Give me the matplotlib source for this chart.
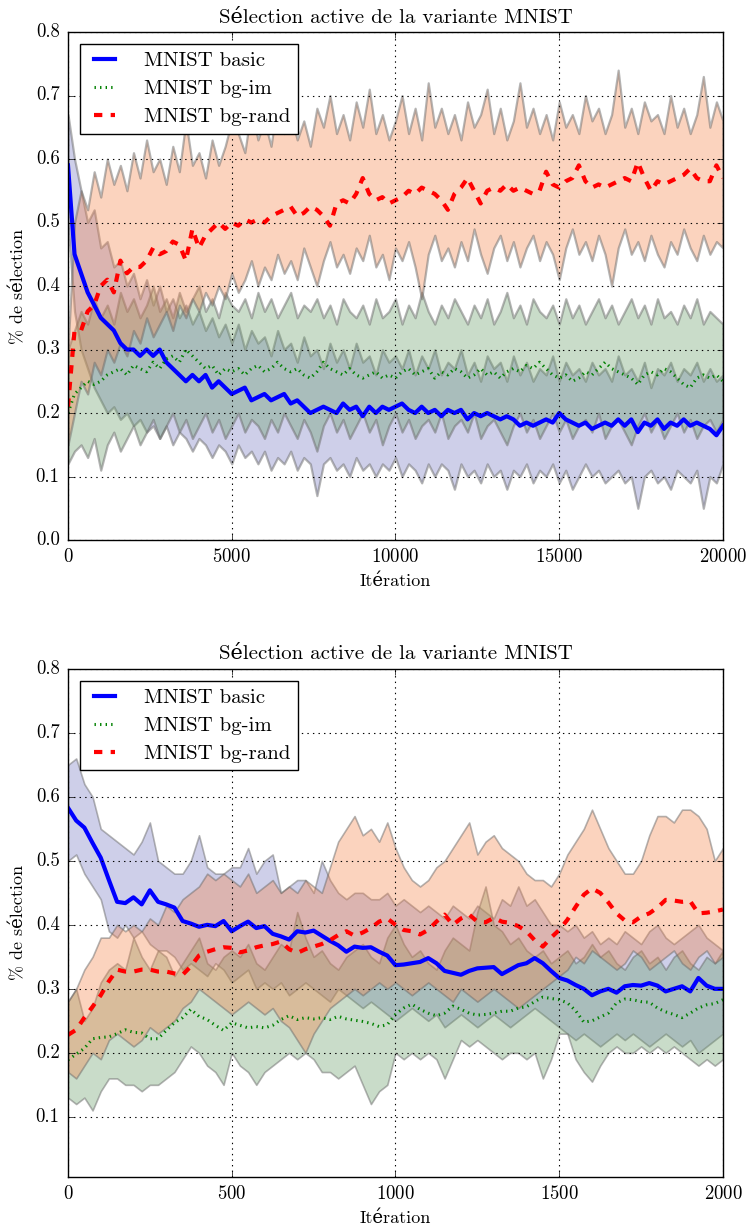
import numpy as np
import matplotlib
matplotlib.use("Agg")
import matplotlib.pyplot as plt

plt.style.use("classic")
plt.rcParams["font.family"] = ["cmr10", "DejaVu Serif"]
plt.rcParams["axes.formatter.use_mathtext"] = True
plt.rcParams["figure.facecolor"] = "white"
plt.rcParams["savefig.facecolor"] = "white"

TITLE = "Sélection active de la variante MNIST"
XLABEL = "Itération"
YLABEL = "% de sélection"
NAMES = ["MNIST basic", "MNIST bg-im", "MNIST bg-rand"]

# ---------------------------------------------------------------------------
# top panel : 0 .. 20000 iterations (one value every 200 iterations)
# ---------------------------------------------------------------------------
TOP_XMAX = 20000

top_basic = [
    0.59, 0.45, 0.42, 0.39, 0.37, 0.35, 0.34, 0.33, 0.31, 0.30,
    0.30, 0.29, 0.30, 0.29, 0.30, 0.28, 0.27, 0.26, 0.25, 0.26,
    0.25, 0.26, 0.24, 0.25, 0.24, 0.23, 0.235, 0.24, 0.22, 0.225,
    0.23, 0.22, 0.225, 0.23, 0.215, 0.22, 0.21, 0.20, 0.205, 0.21,
    0.205, 0.20, 0.215, 0.205, 0.21, 0.195, 0.21, 0.20, 0.21, 0.205,
    0.21, 0.215, 0.205, 0.20, 0.21, 0.20, 0.205, 0.195, 0.205, 0.20,
    0.205, 0.19, 0.20, 0.195, 0.20, 0.195, 0.19, 0.195, 0.19, 0.18,
    0.185, 0.18, 0.185, 0.19, 0.185, 0.20, 0.19, 0.185, 0.18, 0.185,
    0.175, 0.18, 0.185, 0.18, 0.19, 0.18, 0.19, 0.17, 0.185, 0.18,
    0.19, 0.175, 0.185, 0.18, 0.19, 0.18, 0.185, 0.18, 0.175, 0.165,
    0.18]
top_basic_hi = [
    0.67, 0.60, 0.55, 0.50, 0.52, 0.46, 0.47, 0.43, 0.44, 0.40,
    0.42, 0.38, 0.41, 0.37, 0.40, 0.36, 0.38, 0.35, 0.37, 0.34,
    0.36, 0.33, 0.35, 0.32, 0.34, 0.31, 0.34, 0.30, 0.33, 0.31,
    0.32, 0.29, 0.33, 0.30, 0.31, 0.28, 0.32, 0.29, 0.30, 0.27,
    0.31, 0.28, 0.30, 0.27, 0.31, 0.28, 0.29, 0.26, 0.30, 0.28,
    0.29, 0.27, 0.30, 0.26, 0.29, 0.27, 0.30, 0.26, 0.28, 0.27,
    0.30, 0.26, 0.28, 0.25, 0.29, 0.27, 0.28, 0.25, 0.29, 0.26,
    0.28, 0.25, 0.27, 0.26, 0.29, 0.25, 0.28, 0.26, 0.27, 0.25,
    0.28, 0.26, 0.27, 0.25, 0.29, 0.26, 0.27, 0.25, 0.28, 0.24,
    0.27, 0.26, 0.28, 0.25, 0.27, 0.26, 0.28, 0.25, 0.27, 0.25,
    0.26]
top_basic_lo = [
    0.50, 0.36, 0.30, 0.27, 0.24, 0.22, 0.20, 0.21, 0.19, 0.20,
    0.18, 0.19, 0.17, 0.18, 0.16, 0.18, 0.15, 0.17, 0.16, 0.14,
    0.16, 0.15, 0.13, 0.15, 0.14, 0.12, 0.15, 0.13, 0.14, 0.12,
    0.14, 0.11, 0.13, 0.12, 0.14, 0.11, 0.13, 0.12, 0.07, 0.12,
    0.13, 0.11, 0.12, 0.10, 0.13, 0.11, 0.12, 0.10, 0.12, 0.11,
    0.13, 0.10, 0.12, 0.11, 0.09, 0.12, 0.10, 0.12, 0.11, 0.08,
    0.12, 0.10, 0.11, 0.09, 0.12, 0.10, 0.11, 0.08, 0.11, 0.10,
    0.12, 0.09, 0.11, 0.10, 0.12, 0.09, 0.11, 0.08, 0.10, 0.12,
    0.10, 0.11, 0.09, 0.10, 0.11, 0.09, 0.10, 0.05, 0.10, 0.11,
    0.09, 0.10, 0.08, 0.11, 0.10, 0.09, 0.11, 0.05, 0.10, 0.09,
    0.12]

top_bgim = [
    0.20, 0.23, 0.24, 0.25, 0.245, 0.25, 0.26, 0.265, 0.27, 0.26,
    0.275, 0.27, 0.265, 0.28, 0.27, 0.285, 0.29, 0.28, 0.30, 0.29,
    0.28, 0.27, 0.275, 0.26, 0.27, 0.265, 0.27, 0.26, 0.27, 0.275,
    0.265, 0.27, 0.28, 0.27, 0.265, 0.27, 0.26, 0.255, 0.265, 0.28,
    0.27, 0.265, 0.26, 0.27, 0.26, 0.255, 0.26, 0.265, 0.255, 0.26,
    0.255, 0.265, 0.27, 0.26, 0.265, 0.27, 0.255, 0.265, 0.26, 0.27,
    0.265, 0.255, 0.26, 0.27, 0.26, 0.265, 0.255, 0.265, 0.27, 0.265,
    0.275, 0.27, 0.28, 0.27, 0.26, 0.255, 0.26, 0.25, 0.255, 0.265,
    0.26, 0.27, 0.28, 0.27, 0.265, 0.26, 0.255, 0.245, 0.26, 0.265,
    0.26, 0.27, 0.265, 0.255, 0.245, 0.24, 0.255, 0.26, 0.255, 0.26,
    0.25]
top_bgim_hi = [
    0.30, 0.33, 0.36, 0.34, 0.38, 0.35, 0.37, 0.34, 0.39, 0.36,
    0.38, 0.35, 0.37, 0.40, 0.36, 0.38, 0.35, 0.39, 0.36, 0.38,
    0.40, 0.36, 0.38, 0.35, 0.39, 0.37, 0.36, 0.38, 0.35, 0.39,
    0.36, 0.38, 0.35, 0.37, 0.39, 0.35, 0.37, 0.36, 0.38, 0.35,
    0.37, 0.34, 0.38, 0.36, 0.35, 0.37, 0.34, 0.38, 0.35, 0.36,
    0.38, 0.34, 0.37, 0.35, 0.39, 0.36, 0.34, 0.37, 0.35, 0.38,
    0.36, 0.34, 0.37, 0.35, 0.38, 0.34, 0.36, 0.39, 0.35, 0.37,
    0.34, 0.38, 0.36, 0.35, 0.37, 0.34, 0.38, 0.35, 0.37, 0.34,
    0.36, 0.38, 0.35, 0.37, 0.34, 0.36, 0.38, 0.35, 0.37, 0.34,
    0.38, 0.35, 0.36, 0.34, 0.37, 0.35, 0.38, 0.34, 0.36, 0.35,
    0.34]
top_bgim_lo = [
    0.12, 0.14, 0.15, 0.13, 0.16, 0.11, 0.15, 0.17, 0.14, 0.16,
    0.18, 0.15, 0.17, 0.19, 0.16, 0.18, 0.20, 0.17, 0.19, 0.16,
    0.18, 0.20, 0.17, 0.19, 0.16, 0.18, 0.20, 0.17, 0.19, 0.18,
    0.16, 0.19, 0.17, 0.20, 0.18, 0.16, 0.19, 0.17, 0.14, 0.18,
    0.20, 0.17, 0.19, 0.16, 0.18, 0.20, 0.17, 0.19, 0.15, 0.18,
    0.20, 0.17, 0.19, 0.16, 0.18, 0.19, 0.17, 0.20, 0.16, 0.18,
    0.19, 0.17, 0.20, 0.16, 0.18, 0.19, 0.17, 0.15, 0.18, 0.20,
    0.17, 0.19, 0.16, 0.18, 0.20, 0.17, 0.19, 0.16, 0.18, 0.19,
    0.17, 0.20, 0.16, 0.18, 0.19, 0.17, 0.15, 0.18, 0.20, 0.17,
    0.19, 0.16, 0.18, 0.20, 0.17, 0.19, 0.16, 0.18, 0.19, 0.17,
    0.19]

top_bgrand = [
    0.21, 0.33, 0.33, 0.36, 0.37, 0.40, 0.41, 0.39, 0.44, 0.42,
    0.43, 0.43, 0.44, 0.46, 0.45, 0.455, 0.47, 0.465, 0.44, 0.49,
    0.46, 0.48, 0.49, 0.50, 0.49, 0.50, 0.495, 0.505, 0.50, 0.505,
    0.50, 0.51, 0.515, 0.52, 0.525, 0.51, 0.515, 0.525, 0.52, 0.51,
    0.495, 0.53, 0.535, 0.53, 0.545, 0.57, 0.545, 0.535, 0.54, 0.53,
    0.535, 0.54, 0.55, 0.545, 0.555, 0.55, 0.545, 0.535, 0.52, 0.545,
    0.555, 0.57, 0.55, 0.53, 0.55, 0.555, 0.55, 0.56, 0.55, 0.555,
    0.55, 0.545, 0.55, 0.58, 0.56, 0.555, 0.565, 0.57, 0.59, 0.565,
    0.555, 0.56, 0.555, 0.56, 0.565, 0.57, 0.565, 0.595, 0.57, 0.55,
    0.565, 0.56, 0.565, 0.57, 0.575, 0.585, 0.57, 0.565, 0.565, 0.59,
    0.57]
top_bgrand_hi = [
    0.30, 0.50, 0.55, 0.52, 0.58, 0.54, 0.60, 0.56, 0.59, 0.55,
    0.61, 0.57, 0.63, 0.58, 0.60, 0.56, 0.62, 0.58, 0.66, 0.59,
    0.61, 0.57, 0.63, 0.59, 0.62, 0.66, 0.64, 0.61, 0.68, 0.63,
    0.66, 0.62, 0.69, 0.64, 0.67, 0.63, 0.66, 0.62, 0.68, 0.65,
    0.70, 0.64, 0.67, 0.63, 0.69, 0.65, 0.71, 0.64, 0.67, 0.63,
    0.66, 0.70, 0.64, 0.68, 0.63, 0.72, 0.65, 0.68, 0.64, 0.67,
    0.63, 0.69, 0.65, 0.67, 0.71, 0.64, 0.68, 0.63, 0.66, 0.72,
    0.65, 0.68, 0.64, 0.67, 0.63, 0.69, 0.65, 0.67, 0.64, 0.70,
    0.66, 0.68, 0.64, 0.67, 0.74, 0.65, 0.68, 0.64, 0.69, 0.66,
    0.67, 0.64, 0.70, 0.65, 0.68, 0.64, 0.67, 0.73, 0.65, 0.69,
    0.66]
top_bgrand_lo = [
    0.15, 0.20, 0.25, 0.23, 0.28, 0.26, 0.30, 0.28, 0.31, 0.29,
    0.33, 0.31, 0.35, 0.32, 0.34, 0.36, 0.33, 0.37, 0.35, 0.38,
    0.36, 0.39, 0.37, 0.40, 0.38, 0.42, 0.39, 0.41, 0.44, 0.40,
    0.43, 0.41, 0.45, 0.42, 0.44, 0.41, 0.46, 0.43, 0.40, 0.44,
    0.47, 0.43, 0.45, 0.42, 0.46, 0.44, 0.48, 0.43, 0.45, 0.41,
    0.46, 0.44, 0.47, 0.43, 0.38, 0.45, 0.48, 0.44, 0.46, 0.43,
    0.47, 0.44, 0.49, 0.45, 0.42, 0.46, 0.48, 0.44, 0.47, 0.43,
    0.46, 0.48, 0.44, 0.47, 0.45, 0.41, 0.46, 0.49, 0.45, 0.47,
    0.44, 0.48, 0.45, 0.40, 0.46, 0.49, 0.45, 0.47, 0.44, 0.48,
    0.45, 0.43, 0.47, 0.45, 0.49, 0.46, 0.44, 0.48, 0.45, 0.47,
    0.46]

# ---------------------------------------------------------------------------
# bottom panel : first 2000 iterations (one value every 25 iterations)
# ---------------------------------------------------------------------------
BOT_XMAX = 2000

bot_basic = [
    0.583, 0.563, 0.552, 0.528, 0.505, 0.470, 0.436, 0.434, 0.443, 0.432,
    0.454, 0.436, 0.432, 0.427, 0.406, 0.402, 0.397, 0.400, 0.398, 0.406,
    0.390, 0.398, 0.405, 0.395, 0.398, 0.386, 0.382, 0.377, 0.390, 0.388,
    0.391, 0.383, 0.375, 0.368, 0.358, 0.366, 0.364, 0.365, 0.358, 0.352,
    0.337, 0.338, 0.340, 0.342, 0.348, 0.340, 0.328, 0.325, 0.322, 0.328,
    0.332, 0.333, 0.334, 0.323, 0.330, 0.337, 0.340, 0.348, 0.340, 0.328,
    0.317, 0.313, 0.306, 0.300, 0.290, 0.296, 0.300, 0.294, 0.304, 0.306,
    0.305, 0.309, 0.305, 0.296, 0.300, 0.304, 0.296, 0.317, 0.305, 0.300,
    0.300]
bot_basic_hi = [
    0.65, 0.66, 0.62, 0.60, 0.55, 0.54, 0.53, 0.52, 0.51, 0.53,
    0.56, 0.50, 0.49, 0.48, 0.48, 0.50, 0.54, 0.49, 0.48, 0.48,
    0.49, 0.49, 0.52, 0.48, 0.50, 0.51, 0.45, 0.46, 0.47, 0.47,
    0.45, 0.50, 0.47, 0.45, 0.44, 0.45, 0.45, 0.44, 0.44, 0.45,
    0.43, 0.44, 0.43, 0.42, 0.43, 0.42, 0.41, 0.43, 0.42, 0.41,
    0.43, 0.42, 0.41, 0.44, 0.43, 0.46, 0.43, 0.44, 0.42, 0.40,
    0.40, 0.39, 0.40, 0.38, 0.39, 0.37, 0.38, 0.37, 0.39, 0.38,
    0.37, 0.39, 0.40, 0.38, 0.37, 0.38, 0.39, 0.40, 0.38, 0.37,
    0.36]
bot_basic_lo = [
    0.50, 0.51, 0.48, 0.46, 0.44, 0.39, 0.38, 0.40, 0.38, 0.39,
    0.37, 0.36, 0.36, 0.35, 0.33, 0.34, 0.33, 0.32, 0.34, 0.33,
    0.31, 0.32, 0.33, 0.30, 0.31, 0.30, 0.31, 0.29, 0.30, 0.31,
    0.30, 0.29, 0.28, 0.30, 0.29, 0.28, 0.27, 0.28, 0.27, 0.26,
    0.25, 0.26, 0.27, 0.26, 0.25, 0.26, 0.24, 0.25, 0.26, 0.25,
    0.24, 0.25, 0.26, 0.25, 0.24, 0.25, 0.26, 0.27, 0.26, 0.25,
    0.24, 0.23, 0.22, 0.23, 0.22, 0.21, 0.22, 0.23, 0.22, 0.23,
    0.22, 0.21, 0.22, 0.23, 0.22, 0.21, 0.22, 0.20, 0.21, 0.22,
    0.23]

bot_bgim = [
    0.189, 0.198, 0.207, 0.222, 0.224, 0.225, 0.230, 0.236, 0.232, 0.231,
    0.222, 0.222, 0.235, 0.247, 0.255, 0.268, 0.257, 0.252, 0.243, 0.235,
    0.247, 0.243, 0.239, 0.241, 0.239, 0.243, 0.252, 0.258, 0.252, 0.255,
    0.253, 0.255, 0.252, 0.257, 0.253, 0.251, 0.249, 0.246, 0.241, 0.244,
    0.260, 0.270, 0.276, 0.268, 0.262, 0.258, 0.262, 0.273, 0.268, 0.262,
    0.259, 0.260, 0.262, 0.265, 0.265, 0.270, 0.272, 0.280, 0.287, 0.285,
    0.283, 0.278, 0.266, 0.248, 0.250, 0.256, 0.262, 0.278, 0.284, 0.283,
    0.280, 0.279, 0.270, 0.264, 0.260, 0.255, 0.262, 0.270, 0.275, 0.277,
    0.283]
bot_bgim_hi = [
    0.28, 0.30, 0.25, 0.27, 0.31, 0.33, 0.34, 0.33, 0.38, 0.35,
    0.33, 0.36, 0.35, 0.32, 0.34, 0.36, 0.38, 0.34, 0.33, 0.35,
    0.36, 0.35, 0.37, 0.34, 0.33, 0.35, 0.37, 0.36, 0.42, 0.38,
    0.35, 0.36, 0.34, 0.33, 0.35, 0.36, 0.37, 0.35, 0.34, 0.38,
    0.40, 0.37, 0.35, 0.36, 0.34, 0.33, 0.36, 0.38, 0.37, 0.36,
    0.42, 0.46, 0.40, 0.39, 0.37, 0.38, 0.36, 0.35, 0.36, 0.34,
    0.35, 0.36, 0.34, 0.35, 0.37, 0.35, 0.36, 0.34, 0.33, 0.35,
    0.36, 0.34, 0.35, 0.33, 0.35, 0.36, 0.34, 0.33, 0.35, 0.34,
    0.36]
bot_bgim_lo = [
    0.13, 0.12, 0.13, 0.11, 0.14, 0.16, 0.16, 0.15, 0.15, 0.14,
    0.15, 0.15, 0.16, 0.17, 0.19, 0.21, 0.20, 0.18, 0.17, 0.15,
    0.20, 0.18, 0.17, 0.15, 0.17, 0.18, 0.19, 0.20, 0.19, 0.20,
    0.19, 0.17, 0.17, 0.16, 0.17, 0.18, 0.15, 0.12, 0.14, 0.15,
    0.20, 0.19, 0.20, 0.19, 0.20, 0.19, 0.16, 0.19, 0.22, 0.21,
    0.22, 0.21, 0.20, 0.19, 0.20, 0.20, 0.19, 0.20, 0.16, 0.19,
    0.23, 0.23, 0.19, 0.17, 0.155, 0.18, 0.20, 0.21, 0.20, 0.20,
    0.21, 0.20, 0.21, 0.20, 0.21, 0.20, 0.19, 0.18, 0.19, 0.18,
    0.19]

bot_bgrand = [
    0.228, 0.236, 0.255, 0.272, 0.290, 0.312, 0.330, 0.327, 0.327, 0.330,
    0.330, 0.327, 0.327, 0.324, 0.322, 0.335, 0.352, 0.358, 0.362, 0.365,
    0.364, 0.357, 0.360, 0.365, 0.368, 0.370, 0.374, 0.362, 0.356, 0.362,
    0.366, 0.370, 0.376, 0.384, 0.390, 0.383, 0.388, 0.395, 0.405, 0.410,
    0.400, 0.392, 0.390, 0.385, 0.392, 0.405, 0.416, 0.400, 0.410, 0.416,
    0.405, 0.404, 0.411, 0.405, 0.403, 0.398, 0.390, 0.376, 0.366, 0.380,
    0.392, 0.408, 0.428, 0.447, 0.457, 0.450, 0.435, 0.418, 0.407, 0.404,
    0.413, 0.418, 0.427, 0.439, 0.438, 0.436, 0.437, 0.418, 0.419, 0.421,
    0.424]
bot_bgrand_hi = [
    0.28, 0.30, 0.33, 0.35, 0.38, 0.38, 0.40, 0.39, 0.40, 0.39,
    0.41, 0.40, 0.43, 0.42, 0.44, 0.45, 0.46, 0.48, 0.47, 0.48,
    0.47, 0.46, 0.48, 0.45, 0.46, 0.47, 0.45, 0.46, 0.45, 0.47,
    0.46, 0.45, 0.49, 0.53, 0.55, 0.57, 0.54, 0.55, 0.53, 0.56,
    0.52, 0.49, 0.47, 0.46, 0.47, 0.49, 0.50, 0.52, 0.54, 0.56,
    0.51, 0.53, 0.54, 0.52, 0.51, 0.50, 0.48, 0.47, 0.47, 0.46,
    0.48, 0.51, 0.53, 0.55, 0.58, 0.55, 0.52, 0.50, 0.48, 0.48,
    0.50, 0.54, 0.57, 0.57, 0.56, 0.58, 0.58, 0.57, 0.55, 0.50,
    0.52]
bot_bgrand_lo = [
    0.17, 0.16, 0.18, 0.20, 0.19, 0.22, 0.23, 0.22, 0.21, 0.22,
    0.24, 0.23, 0.24, 0.25, 0.27, 0.28, 0.30, 0.29, 0.28, 0.27,
    0.26, 0.27, 0.28, 0.27, 0.26, 0.27, 0.25, 0.24, 0.22, 0.20,
    0.23, 0.25, 0.27, 0.28, 0.29, 0.30, 0.29, 0.30, 0.31, 0.30,
    0.31, 0.30, 0.29, 0.30, 0.31, 0.30, 0.29, 0.28, 0.30, 0.29,
    0.28, 0.29, 0.30, 0.29, 0.28, 0.27, 0.28, 0.29, 0.30, 0.31,
    0.32, 0.33, 0.35, 0.34, 0.36, 0.35, 0.34, 0.33, 0.34, 0.36,
    0.35, 0.33, 0.34, 0.35, 0.36, 0.34, 0.33, 0.35, 0.36, 0.34,
    0.35]

# ---------------------------------------------------------------------------
LINE_COLORS = ["b", "g", "r"]
LINE_STYLES = ["-", ":", "--"]
LINE_WIDTHS = [3.0, 2.2, 3.0]
BAND_FACE = [(0.46, 0.47, 0.76, 0.35), (0.40, 0.61, 0.40, 0.35),
             (0.96, 0.51, 0.28, 0.35)]


def draw_panel(ax, xmax, means, his, los, ylim, ticks, edge_lw):
    for k in range(3):
        x = np.linspace(0, xmax, len(means[k]))
        ax.fill_between(x, los[k], his[k], facecolor=BAND_FACE[k],
                        edgecolor=(0.42, 0.42, 0.42, 0.5), linewidth=edge_lw)
    for k in range(3):
        x = np.linspace(0, xmax, len(means[k]))
        ax.plot(x, means[k], color=LINE_COLORS[k], linestyle=LINE_STYLES[k],
                linewidth=LINE_WIDTHS[k], label=NAMES[k])
    ax.set_xlim(0, xmax)
    ax.set_ylim(*ylim)
    ax.set_yticks(ticks)
    ax.grid(True, linestyle=":", color="k", linewidth=0.8)
    ax.tick_params(labelsize=13.5, pad=6)
    ax.set_title(TITLE, fontsize=15, y=1.005)
    ax.set_xlabel(XLABEL, fontsize=13)
    ax.set_ylabel(YLABEL, fontsize=13)
    leg = ax.legend(loc="upper left", fontsize=15, handlelength=1.6,
                    handletextpad=1.1, borderpad=0.35, labelspacing=0.45,
                    borderaxespad=0.6, fancybox=False)
    leg.get_frame().set_linewidth(1.0)


fig = plt.figure(figsize=(7.52, 12.26), dpi=100)
ax1 = fig.add_axes([0.0904, 0.5595, 0.871, 0.4144])
ax2 = fig.add_axes([0.0904, 0.040, 0.871, 0.4144])

draw_panel(ax1, TOP_XMAX,
           [top_basic, top_bgim, top_bgrand],
           [top_basic_hi, top_bgim_hi, top_bgrand_hi],
           [top_basic_lo, top_bgim_lo, top_bgrand_lo],
           (0.0, 0.8), np.arange(0, 0.81, 0.1), 1.6)
ax1.set_xticks([0, 5000, 10000, 15000, 20000])

draw_panel(ax2, BOT_XMAX,
           [bot_basic, bot_bgim, bot_bgrand],
           [bot_basic_hi, bot_bgim_hi, bot_bgrand_hi],
           [bot_basic_lo, bot_bgim_lo, bot_bgrand_lo],
           (0.006, 0.8), np.arange(0.1, 0.81, 0.1), 1.2)
ax2.set_xticks([0, 500, 1000, 1500, 2000])

for ax in (ax1, ax2):
    ax.yaxis.set_major_formatter(matplotlib.ticker.FormatStrFormatter("%.1f"))
    ax.yaxis.set_label_coords(-0.063, 0.5)

fig.savefig("out.png", dpi=100)
